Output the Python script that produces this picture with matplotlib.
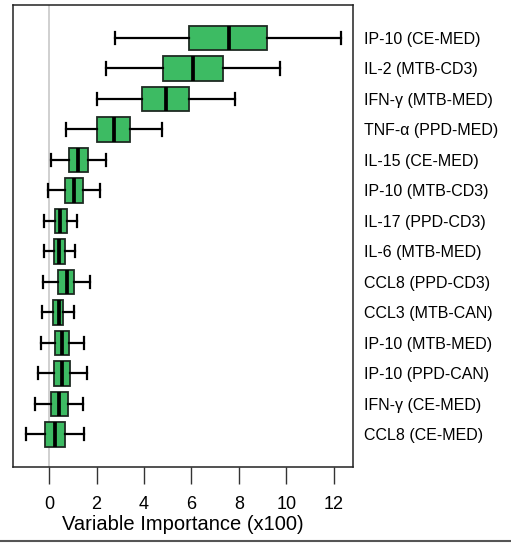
import matplotlib
matplotlib.use("Agg")
import matplotlib.pyplot as plt

plt.rcParams['font.family'] = ['Liberation Sans', 'DejaVu Sans']

# cytokine (stimulation) labels, top to bottom
labels = ["IP-10 (CE-MED)", "IL-2 (MTB-CD3)", "IFN-γ (MTB-MED)", "TNF-α (PPD-MED)",
          "IL-15 (CE-MED)", "IP-10 (MTB-CD3)", "IL-17 (PPD-CD3)", "IL-6 (MTB-MED)",
          "CCL8 (PPD-CD3)", "CCL3 (MTB-CAN)", "IP-10 (MTB-MED)", "IP-10 (PPD-CAN)",
          "IFN-γ (CE-MED)", "CCL8 (CE-MED)"]

# box statistics (x100)
whisker_lo = [2.80, 2.42, 2.00, 0.72, 0.09, -0.03, -0.20, -0.23, -0.26, -0.29, -0.36, -0.47, -0.61, -0.98]
q1 = [5.92, 4.81, 3.91, 2.04, 0.85, 0.68, 0.25, 0.20, 0.37, 0.16, 0.25, 0.20, 0.09, -0.16]
median = [7.57, 6.06, 4.92, 2.73, 1.21, 1.04, 0.48, 0.41, 0.77, 0.43, 0.56, 0.56, 0.41, 0.23]
q3 = [9.19, 7.32, 5.92, 3.42, 1.63, 1.42, 0.74, 0.67, 1.04, 0.60, 0.86, 0.89, 0.79, 0.69]
whisker_hi = [12.30, 9.72, 7.84, 4.75, 2.39, 2.13, 1.19, 1.10, 1.72, 1.04, 1.47, 1.58, 1.44, 1.49]

stats = []
for i in range(len(labels)):
    stats.append(dict(whislo=whisker_lo[i], q1=q1[i], med=median[i], q3=q3[i],
                      whishi=whisker_hi[i], fliers=[]))

fig = plt.figure(figsize=(5.11, 5.43), dpi=100)
ax = fig.add_axes([0.026, 0.1394, 0.6654, 0.8514])

ax.axvline(0, color='#c8c8c8', lw=1.2, zorder=0)

pos = list(range(1, len(labels) + 1))
ax.bxp(stats, positions=pos, vert=False, widths=0.8, patch_artist=True,
       showfliers=False,
       boxprops=dict(facecolor='#3dbb63', edgecolor='#1e2a22', linewidth=1.3),
       medianprops=dict(color='black', linewidth=2.7, solid_capstyle='butt'),
       whiskerprops=dict(color='black', linewidth=1.6),
       capprops=dict(color='black', linewidth=1.6),
       capwidths=0.4)

ax.set_xlim(-1.51, 12.83)
ax.set_ylim(15.08, -0.08)

ax.set_xticks(range(0, 13, 2))
ax.tick_params(axis='x', length=12, width=1, labelsize=13, pad=9, color='#333333')
ax.set_xlabel("Variable Importance (x100)", fontsize=14.5, labelpad=1)

ax.yaxis.tick_right()
ax.set_yticks(pos)
ax.set_yticklabels(labels, fontsize=11.5)
ax.tick_params(axis='y', length=0, pad=8)

for s in ax.spines.values():
    s.set_linewidth(1.1)
    s.set_color('#222222')

# thin border along the bottom edge
fig.add_artist(plt.Line2D([0, 1], [0.003, 0.003], color='#555555', lw=1.5,
                          transform=fig.transFigure))

fig.savefig("out.png", dpi=100)
